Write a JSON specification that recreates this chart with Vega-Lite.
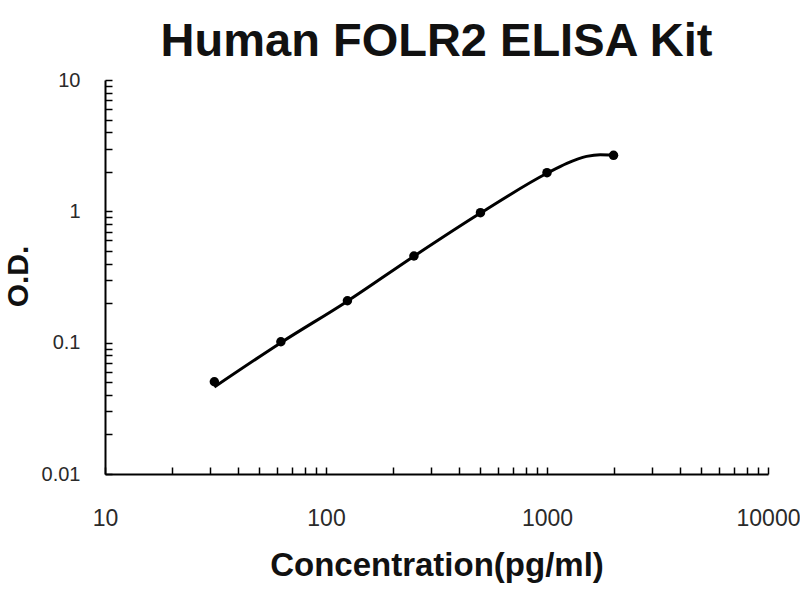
{
  "$schema": "https://vega.github.io/schema/vega-lite/v6.json",
  "width": 663,
  "height": 394,
  "autosize": "none",
  "padding": {"left": 105, "top": 80, "right": 32, "bottom": 126},
  "background": "white",
  "title": {
    "text": "Human FOLR2 ELISA Kit",
    "font": "Liberation Sans",
    "fontSize": 47,
    "fontWeight": "bold",
    "color": "#111111",
    "anchor": "middle",
    "frame": "group",
    "baseline": "alphabetic",
    "offset": -33
  },
  "datasets": {
    "standards": [
      {"conc": 31.25, "od": 0.0504},
      {"conc": 62.5, "od": 0.1016},
      {"conc": 125, "od": 0.2085},
      {"conc": 250, "od": 0.457},
      {"conc": 500, "od": 0.976},
      {"conc": 1000, "od": 1.97},
      {"conc": 2000, "od": 2.67}
    ],
    "curve": [
      {"conc": 31.25, "od": 0.046},
      {"conc": 62.5, "od": 0.1},
      {"conc": 125, "od": 0.207},
      {"conc": 250, "od": 0.455},
      {"conc": 500, "od": 0.97},
      {"conc": 1000, "od": 1.95},
      {"conc": 1230, "od": 2.32},
      {"conc": 1510, "od": 2.62},
      {"conc": 1740, "od": 2.7},
      {"conc": 2000, "od": 2.68}
    ]
  },
  "encoding": {
    "x": {
      "field": "conc",
      "type": "quantitative",
      "scale": {"type": "log", "domain": [10, 10000], "nice": false},
      "axis": {
        "title": "Concentration(pg/ml)",
        "values": [10, 20, 30, 40, 50, 60, 70, 80, 90, 100, 200, 300, 400, 500, 600, 700, 800, 900, 1000, 2000, 3000, 4000, 5000, 6000, 7000, 8000, 9000, 10000],
        "format": "d",
        "labelExpr": "indexof([10, 100, 1000, 10000], datum.value) >= 0 ? datum.label : ''",
        "labelPadding": 40,
        "labelFontSize": 23,
        "titleBaseline": "alphabetic",
        "titleY": 101
      }
    },
    "y": {
      "field": "od",
      "type": "quantitative",
      "scale": {"type": "log", "domain": [0.01, 10], "nice": false},
      "axis": {
        "title": "O.D.",
        "values": [0.01, 0.02, 0.03, 0.04, 0.05, 0.06, 0.07, 0.08, 0.09, 0.1, 0.2, 0.3, 0.4, 0.5, 0.6, 0.7, 0.8, 0.9, 1, 2, 3, 4, 5, 6, 7, 8, 9, 10],
        "format": "~g",
        "labelExpr": "indexof([0.01, 0.1, 1, 10], datum.value) >= 0 ? datum.label : ''",
        "labelPadding": 32,
        "labelFontSize": 20,
        "titleAngle": -90,
        "titleBaseline": "alphabetic",
        "titleAlign": "center",
        "titleX": -78,
        "titleY": 196,
        "titleFontSize": 30
      }
    }
  },
  "layer": [
    {
      "data": {"name": "curve"},
      "mark": {"type": "line", "color": "black", "strokeWidth": 3, "interpolate": "monotone"}
    },
    {
      "data": {"name": "standards"},
      "mark": {"type": "circle", "color": "black", "size": 90, "opacity": 1}
    }
  ],
  "config": {
    "view": {"stroke": null},
    "axis": {
      "grid": false,
      "domainColor": "black",
      "domainWidth": 2,
      "tickColor": "black",
      "tickWidth": 1.5,
      "tickSize": -7,
      "labelFont": "Liberation Sans",
      "labelColor": "#2a2a2a",
      "labelOverlap": false,
      "labelBound": false,
      "labelFlush": false,
      "titleFont": "Liberation Sans",
      "titleFontSize": 33,
      "titleFontWeight": "bold",
      "titleColor": "#111111"
    }
  }
}
